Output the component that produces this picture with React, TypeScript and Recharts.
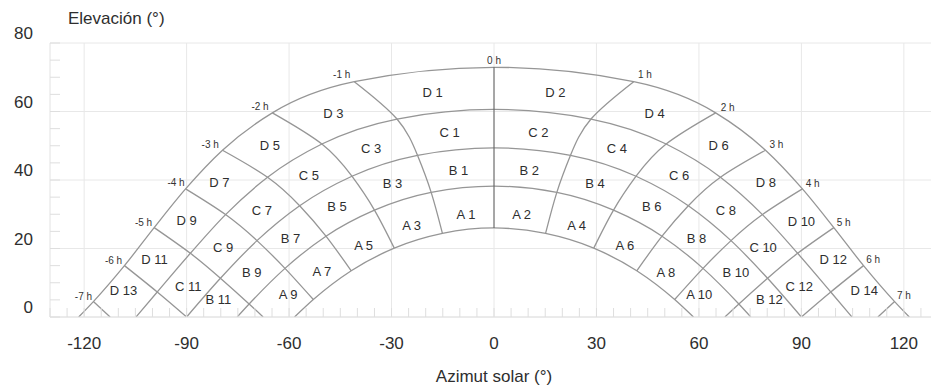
import React from 'react';
import { ComposedChart, Line, Scatter, XAxis, YAxis, CartesianGrid, Label } from 'recharts';

const FONT = '"Liberation Sans", Arial, Helvetica, sans-serif';

// ---- axis ticks ----
const xTicks = [-130, -125, -120, -115, -110, -105, -100, -95, -90, -85, -80, -75, -70, -65, -60, -55, -50, -45, -40, -35, -30, -25, -20, -15, -10, -5, 0, 5, 10, 15, 20, 25, 30, 35, 40, 45, 50, 55, 60, 65, 70, 75, 80, 85, 90, 95, 100, 105, 110, 115, 120, 125, 130];
const xMajor = [-120, -90, -60, -30, 0, 30, 60, 90, 120];
const yTicks = [0, 5, 10, 15, 20, 25, 30, 35, 40, 45, 50, 55, 60, 65, 70, 75, 80];
const yMajor = [0, 20, 40, 60, 80];

// ---- sun path arcs (azimuth, elevation) ----
const arcSummer = [
  { az: -121.6, el: 0 }, { az: -117.3, el: 4.5 }, { az: -108.2, el: 15.0 }, { az: -99.5, el: 26.1 },
  { az: -90.3, el: 37.4 }, { az: -79.5, el: 48.7 }, { az: -64.9, el: 59.6 }, { az: -40.9, el: 68.7 },
  { az: 0, el: 72.9 },
  { az: 40.9, el: 68.7 }, { az: 64.9, el: 59.6 }, { az: 79.5, el: 48.7 }, { az: 90.3, el: 37.4 },
  { az: 99.5, el: 26.1 }, { az: 108.2, el: 15.0 }, { az: 117.3, el: 4.5 }, { az: 121.6, el: 0 },
];
const arcSpring = [
  { az: -104.8, el: 0 }, { az: -98.6, el: 7.3 }, { az: -88.9, el: 18.6 }, { az: -78.6, el: 29.9 },
  { az: -66.3, el: 40.8 }, { az: -50.4, el: 50.5 }, { az: -28.4, el: 57.8 }, { az: 0, el: 60.6 },
  { az: 28.4, el: 57.8 }, { az: 50.4, el: 50.5 }, { az: 66.3, el: 40.8 }, { az: 78.6, el: 29.9 },
  { az: 88.9, el: 18.6 }, { az: 98.6, el: 7.3 }, { az: 104.8, el: 0 },
];
const arcEquinox = [
  { az: -90, el: 0 }, { az: -80.1, el: 11.3 }, { az: -69.4, el: 22.3 }, { az: -56.9, el: 32.5 },
  { az: -41.6, el: 41.1 }, { az: -22.4, el: 47.2 }, { az: 0, el: 49.4 },
  { az: 22.4, el: 47.2 }, { az: 41.6, el: 41.1 }, { az: 56.9, el: 32.5 }, { az: 69.4, el: 22.3 },
  { az: 80.1, el: 11.3 }, { az: 90, el: 0 },
];
const arcAutumn = [
  { az: -75.2, el: 0 }, { az: -71.7, el: 3.8 }, { az: -61.2, el: 14.2 }, { az: -49.2, el: 23.6 },
  { az: -35.0, el: 31.2 }, { az: -18.4, el: 36.4 }, { az: 0, el: 38.2 },
  { az: 18.4, el: 36.4 }, { az: 35.0, el: 31.2 }, { az: 49.2, el: 23.6 }, { az: 61.2, el: 14.2 },
  { az: 71.7, el: 3.8 }, { az: 75.2, el: 0 },
];
const arcWinter = [
  { az: -58.4, el: 0 }, { az: -52.9, el: 5.1 }, { az: -41.8, el: 13.5 }, { az: -29.2, el: 20.1 },
  { az: -15.1, el: 24.4 }, { az: 0, el: 26.0 },
  { az: 15.1, el: 24.4 }, { az: 29.2, el: 20.1 }, { az: 41.8, el: 13.5 }, { az: 52.9, el: 5.1 },
  { az: 58.4, el: 0 },
];

// ---- hour lines ----
const hourM7 = [{ az: -117.3, el: 4.5 }, { az: -112.4, el: 0 }];
const hourM6 = [{ az: -108.2, el: 15.0 }, { az: -98.6, el: 7.3 }, { az: -90, el: 0 }];
const hourM5 = [{ az: -99.5, el: 26.1 }, { az: -88.9, el: 18.6 }, { az: -80.1, el: 11.3 }, { az: -71.7, el: 3.8 }, { az: -67.6, el: 0 }];
const hourM4 = [{ az: -90.3, el: 37.4 }, { az: -78.6, el: 29.9 }, { az: -69.4, el: 22.3 }, { az: -61.2, el: 14.2 }, { az: -52.9, el: 5.1 }];
const hourM3 = [{ az: -79.5, el: 48.7 }, { az: -66.3, el: 40.8 }, { az: -56.9, el: 32.5 }, { az: -49.2, el: 23.6 }, { az: -41.8, el: 13.5 }];
const hourM2 = [{ az: -64.9, el: 59.6 }, { az: -50.4, el: 50.5 }, { az: -41.6, el: 41.1 }, { az: -35.0, el: 31.2 }, { az: -29.2, el: 20.1 }];
const hourM1 = [{ az: -40.9, el: 68.7 }, { az: -28.4, el: 57.8 }, { az: -22.4, el: 47.2 }, { az: -18.4, el: 36.4 }, { az: -15.1, el: 24.4 }];
const hour0 = [{ az: 0, el: 72.9 }, { az: 0, el: 60.6 }, { az: 0, el: 49.4 }, { az: 0, el: 38.2 }, { az: 0, el: 26.0 }];
const hourP1 = [{ az: 40.9, el: 68.7 }, { az: 28.4, el: 57.8 }, { az: 22.4, el: 47.2 }, { az: 18.4, el: 36.4 }, { az: 15.1, el: 24.4 }];
const hourP2 = [{ az: 64.9, el: 59.6 }, { az: 50.4, el: 50.5 }, { az: 41.6, el: 41.1 }, { az: 35.0, el: 31.2 }, { az: 29.2, el: 20.1 }];
const hourP3 = [{ az: 79.5, el: 48.7 }, { az: 66.3, el: 40.8 }, { az: 56.9, el: 32.5 }, { az: 49.2, el: 23.6 }, { az: 41.8, el: 13.5 }];
const hourP4 = [{ az: 90.3, el: 37.4 }, { az: 78.6, el: 29.9 }, { az: 69.4, el: 22.3 }, { az: 61.2, el: 14.2 }, { az: 52.9, el: 5.1 }];
const hourP5 = [{ az: 99.5, el: 26.1 }, { az: 88.9, el: 18.6 }, { az: 80.1, el: 11.3 }, { az: 71.7, el: 3.8 }, { az: 67.6, el: 0 }];
const hourP6 = [{ az: 108.2, el: 15.0 }, { az: 98.6, el: 7.3 }, { az: 90, el: 0 }];
const hourP7 = [{ az: 117.3, el: 4.5 }, { az: 112.4, el: 0 }];

// ---- labels ----
const zoneLabels = [
  { az: -18, el: 65.7, label: 'D 1' }, { az: 18, el: 65.7, label: 'D 2' },
  { az: -47, el: 59.6, label: 'D 3' }, { az: 47, el: 59.6, label: 'D 4' },
  { az: -65.6, el: 50.2, label: 'D 5' }, { az: 65.8, el: 50.2, label: 'D 6' },
  { az: -80.4, el: 39.4, label: 'D 7' }, { az: 79.6, el: 39.3, label: 'D 8' },
  { az: -90, el: 28.1, label: 'D 9' }, { az: 90, el: 28.0, label: 'D 10' },
  { az: -99.4, el: 16.8, label: 'D 11' }, { az: 99.3, el: 16.8, label: 'D 12' },
  { az: -108.5, el: 7.8, label: 'D 13' }, { az: 108.4, el: 7.8, label: 'D 14' },
  { az: -13, el: 53.8, label: 'C 1' }, { az: 13, el: 53.8, label: 'C 2' },
  { az: -36, el: 49.3, label: 'C 3' }, { az: 36, el: 49.3, label: 'C 4' },
  { az: -54.2, el: 41.3, label: 'C 5' }, { az: 54.2, el: 41.3, label: 'C 6' },
  { az: -68, el: 31.2, label: 'C 7' }, { az: 67.9, el: 31.2, label: 'C 8' },
  { az: -79.3, el: 20.2, label: 'C 9' }, { az: 78.8, el: 20.2, label: 'C 10' },
  { az: -89.5, el: 8.9, label: 'C 11' }, { az: 89.4, el: 8.9, label: 'C 12' },
  { az: -10.4, el: 42.9, label: 'B 1' }, { az: 10.3, el: 42.9, label: 'B 2' },
  { az: -29.7, el: 39.0, label: 'B 3' }, { az: 29.6, el: 39.0, label: 'B 4' },
  { az: -46, el: 32.2, label: 'B 5' }, { az: 46.2, el: 32.2, label: 'B 6' },
  { az: -59.6, el: 23.1, label: 'B 7' }, { az: 59.3, el: 23.0, label: 'B 8' },
  { az: -70.9, el: 12.9, label: 'B 9' }, { az: 70.8, el: 12.9, label: 'B 10' },
  { az: -80.7, el: 5.3, label: 'B 11' }, { az: 80.6, el: 5.3, label: 'B 12' },
  { az: -8.2, el: 30.1, label: 'A 1' }, { az: 8.1, el: 30.1, label: 'A 2' },
  { az: -24.1, el: 26.9, label: 'A 3' }, { az: 24.2, el: 26.9, label: 'A 4' },
  { az: -38.2, el: 21.0, label: 'A 5' }, { az: 38.3, el: 21.0, label: 'A 6' },
  { az: -50.4, el: 13.2, label: 'A 7' }, { az: 50.3, el: 13.0, label: 'A 8' },
  { az: -60.3, el: 6.7, label: 'A 9' }, { az: 60.1, el: 6.6, label: 'A 10' },
];

const hourLabels = [
  { az: -120.2, el: 6.1, label: '-7 h' }, { az: -111.4, el: 16.6, label: '-6 h' },
  { az: -102.6, el: 27.6, label: '-5 h' }, { az: -93.1, el: 39.2, label: '-4 h' },
  { az: -83.1, el: 50.4, label: '-3 h' }, { az: -68.5, el: 61.4, label: '-2 h' },
  { az: -44.6, el: 70.9, label: '-1 h' }, { az: 0, el: 75.0, label: '0 h' },
  { az: 44.2, el: 70.7, label: '1 h' }, { az: 68.4, el: 61.2, label: '2 h' },
  { az: 82.7, el: 50.4, label: '3 h' }, { az: 93.3, el: 39.0, label: '4 h' },
  { az: 102.4, el: 27.6, label: '5 h' }, { az: 111.0, el: 16.8, label: '6 h' },
  { az: 120.0, el: 6.2, label: '7 h' },
];

const arcs = [arcSummer, arcSpring, arcEquinox, arcAutumn, arcWinter];
const hourLines = [hourM7, hourM6, hourM5, hourM4, hourM3, hourM2, hourM1, hourP1, hourP2, hourP3, hourP4, hourP5, hourP6, hourP7];

const LINE_COLOR = '#969696';
const TEXT_COLOR = '#2e2e2e';

const XTick = (props: any) => {
  const { x, y, payload } = props;
  const v = payload.value;
  const major = xMajor.includes(v);
  return (
    <g>
      <line x1={x} y1={y} x2={x} y2={y - 9} stroke="#dedede" strokeWidth={1} />
      {major && (
        <text x={x} y={y + 32} textAnchor="middle" fontSize={17} fill={TEXT_COLOR} fontFamily={FONT}>
          {v}
        </text>
      )}
    </g>
  );
};

const YTick = (props: any) => {
  const { x, y, payload } = props;
  const v = payload.value;
  const major = yMajor.includes(v);
  return (
    <g>
      <line x1={x} y1={y} x2={x + 10} y2={y} stroke="#dedede" strokeWidth={1} />
      {major && (
        <text x={x - 17} y={y - 4} textAnchor="end" fontSize={17} fill={TEXT_COLOR} fontFamily={FONT}>
          {v}
        </text>
      )}
    </g>
  );
};

const XTitle = (props: any) => {
  const vb = props.viewBox || { x: 50, y: 317, width: 888, height: 70 };
  return (
    <text x={vb.x + vb.width / 2} y={vb.y + 65} textAnchor="middle" fontSize={17} fill={TEXT_COLOR} fontFamily={FONT}>
      Azimut solar (°)
    </text>
  );
};

const YTitle = (props: any) => {
  const vb = props.viewBox || { x: 0, y: 43, width: 50, height: 274 };
  return (
    <text x={vb.x + 68} y={vb.y - 19} textAnchor="start" fontSize={17} fill={TEXT_COLOR} fontFamily={FONT}>
      Elevación (°)
    </text>
  );
};

const ZoneText = (props: any) => {
  const { cx, cy, payload } = props;
  return (
    <text x={cx} y={cy} dy="0.36em" textAnchor="middle" fontSize={13} fill={TEXT_COLOR} fontFamily={FONT}>
      {payload.label}
    </text>
  );
};

const HourText = (props: any) => {
  const { cx, cy, payload } = props;
  return (
    <text x={cx} y={cy} dy="0.36em" textAnchor="middle" fontSize={10} fill="#333" fontFamily={FONT}>
      {payload.label}
    </text>
  );
};

export default function App() {
  return (
    <div style={{ position: 'absolute', left: 0, top: 0, width: 931, height: 387, overflow: 'hidden', background: '#fff' }}>
      <ComposedChart width={950} height={387} margin={{ top: 43, right: 12, bottom: 0, left: 0 }}>
        <CartesianGrid stroke="#e8e8e8" horizontalValues={yMajor} verticalValues={xMajor} />
        <XAxis
          type="number"
          dataKey="az"
          domain={[-130, 130]}
          ticks={xTicks}
          interval={0}
          tick={<XTick />}
          tickLine={false}
          tickSize={0}
          tickMargin={0}
          axisLine={{ stroke: '#e2e2e2' }}
          height={70}
          allowDataOverflow
        >
          <Label content={<XTitle />} />
        </XAxis>
        <YAxis
          type="number"
          dataKey="el"
          domain={[0, 80]}
          ticks={yTicks}
          interval={0}
          tick={<YTick />}
          tickLine={false}
          tickSize={0}
          tickMargin={0}
          axisLine={{ stroke: '#e2e2e2' }}
          width={50}
          allowDataOverflow
        >
          <Label content={<YTitle />} />
        </YAxis>
        {arcs.map((arc, i) => (
          <Line
            key={'arc' + i}
            data={arc}
            dataKey="el"
            type="monotone"
            stroke={LINE_COLOR}
            strokeWidth={1.3}
            dot={false}
            activeDot={false}
            isAnimationActive={false}
          />
        ))}
        {hourLines.map((h, i) => (
          <Line
            key={'hour' + i}
            data={h}
            dataKey="el"
            type="natural"
            stroke={LINE_COLOR}
            strokeWidth={1.3}
            dot={false}
            activeDot={false}
            isAnimationActive={false}
          />
        ))}
        <Line
          data={hour0}
          dataKey="el"
          type="linear"
          stroke="#5a5a5a"
          strokeWidth={1}
          dot={false}
          activeDot={false}
          isAnimationActive={false}
        />
        <Scatter data={zoneLabels} shape={<ZoneText />} isAnimationActive={false} />
        <Scatter data={hourLabels} shape={<HourText />} isAnimationActive={false} />
      </ComposedChart>
    </div>
  );
}
